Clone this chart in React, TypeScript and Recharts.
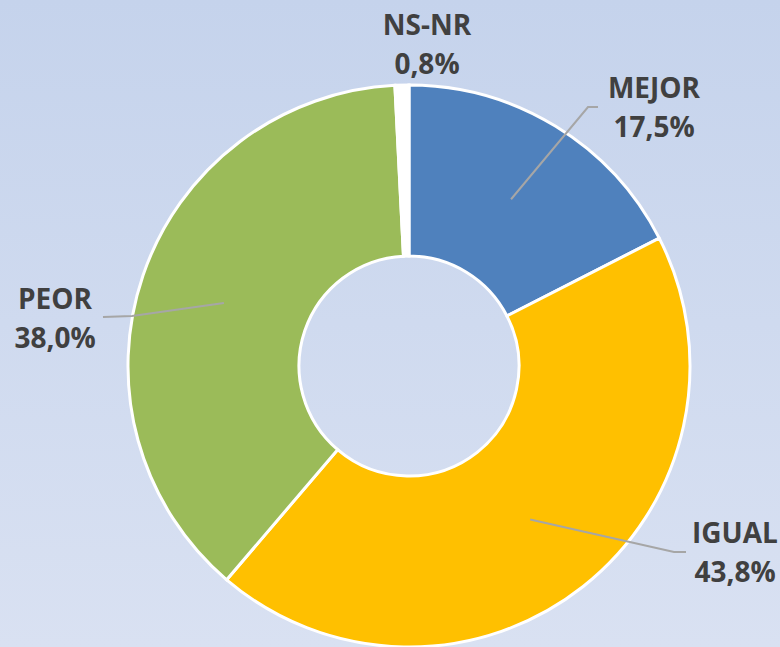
import React from "react";
import { PieChart, Pie, Cell } from "recharts";

const categories = ["MEJOR", "IGUAL", "PEOR", "NS-NR"];
const values = [17.5, 43.8, 38.0, 0.8];
const valueLabels = ["17,5%", "43,8%", "38,0%", "0,8%"];
const colors = ["#4f81bd", "#ffc000", "#9bbb59", "#ffffff"];

// label layout: text centre x, first line baseline y, elbow point, line end
const labelLayout = [
  { tx: 654, ty: 98, line: [[588, 107], [598, 107]] },
  { tx: 735, ty: 543, line: [[674, 552], [686, 552]] },
  { tx: 55, ty: 309, line: [[132, 316], [103, 317]] },
  { tx: 427, ty: 35, line: null as null | number[][] },
];

const data = categories.map((name, i) => ({ name, value: values[i], label: valueLabels[i] }));

const RAD = Math.PI / 180;

const renderLabel = (props: any) => {
  const { cx, cy, midAngle, innerRadius, outerRadius, index } = props;
  const lay = labelLayout[index];
  const r = (innerRadius + outerRadius) / 2;
  const sx = cx + r * Math.cos(-midAngle * RAD);
  const sy = cy + r * Math.sin(-midAngle * RAD);
  const pts = lay.line ? [[sx, sy], ...lay.line].map((p) => p.join(",")).join(" ") : null;
  return (
    <g key={`lbl-${index}`}>
      {pts && <polyline points={pts} fill="none" stroke="#a6a6a6" strokeWidth={2} />}
      <text
        x={lay.tx}
        y={lay.ty}
        textAnchor="middle"
        fill="#404040"
        fontFamily="'Open Sans', 'Noto Sans', sans-serif"
        fontWeight={700}
        fontSize={28}
      >
        <tspan x={lay.tx} dy={0}>{data[index].name}</tspan>
        <tspan x={lay.tx} dy={38.5}>{data[index].label}</tspan>
      </text>
    </g>
  );
};

export default function App() {
  return (
    <div
      style={{
        position: "fixed",
        left: 0,
        top: 0,
        width: 780,
        height: 647,
        background: "linear-gradient(to bottom, #c5d3ec 0%, #d9e1f2 100%)",
      }}
    >
      <PieChart width={780} height={647} margin={{ top: 0, right: 0, bottom: 0, left: 0 }}>
        <Pie
          data={data}
          dataKey="value"
          nameKey="name"
          cx={409}
          cy={366}
          innerRadius={110}
          outerRadius={281}
          startAngle={90}
          endAngle={-270}
          stroke="#ffffff"
          strokeWidth={3}
          label={renderLabel}
          labelLine={false}
          isAnimationActive={false}
        >
          {data.map((d, i) => (
            <Cell key={d.name} fill={colors[i]} />
          ))}
        </Pie>
      </PieChart>
    </div>
  );
}
